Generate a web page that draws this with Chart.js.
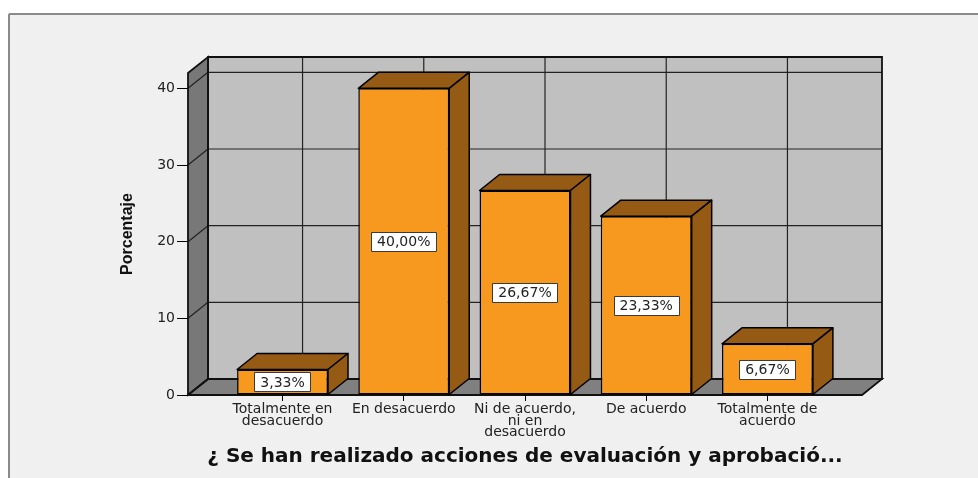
<!DOCTYPE html>
<html>
<head>
<meta charset="utf-8">
<script src="https://cdn.jsdelivr.net/npm/chart.js@4"></script>
<style>
html, body { margin: 0; padding: 0; background: #fff; }
#grafico { display: block; }
</style>
</head>
<body>
<canvas id="grafico" width="978" height="478"></canvas>
<script>
// Datos de la pregunta
const categorias = [
    ["Totalmente en", "desacuerdo"],
    "En desacuerdo",
    ["Ni de acuerdo,", "ni en", "desacuerdo"],
    "De acuerdo",
    ["Totalmente de", "acuerdo"]
];
const porcentajes = [3.33, 40.00, 26.67, 23.33, 6.67];
const marcasY = [0, 10, 20, 30, 40];
const tituloX = "¿ Se han realizado acciones de evaluación y aprobació...";
const tituloY = "Porcentaje";

// Profundidad del efecto 3D (en px)
const DX = 20;
const DY = 16;

function poligono(ctx, puntos, relleno, borde, grosor) {
    ctx.beginPath();
    ctx.moveTo(puntos[0][0], puntos[0][1]);
    for (let i = 1; i < puntos.length; i++) ctx.lineTo(puntos[i][0], puntos[i][1]);
    ctx.closePath();
    if (relleno) { ctx.fillStyle = relleno; ctx.fill(); }
    if (borde) { ctx.strokeStyle = borde; ctx.lineWidth = grosor || 1; ctx.stroke(); }
}

function linea(ctx, x1, y1, x2, y2) {
    ctx.beginPath();
    ctx.moveTo(x1, y1);
    ctx.lineTo(x2, y2);
    ctx.stroke();
}

// Fondo, paredes, piso y rejilla
const escena3d = {
    id: 'escena3d',
    beforeDraw(chart) {
        const ctx = chart.ctx;
        const a = chart.chartArea;
        const xs = chart.scales.x;
        const ys = chart.scales.y;
        ctx.save();

        ctx.fillStyle = '#ffffff';
        ctx.fillRect(0, 0, chart.width, chart.height);
        ctx.fillStyle = '#f0f0f0';
        ctx.fillRect(9, 14, chart.width, chart.height);
        ctx.strokeStyle = '#8a8a8a';
        ctx.lineWidth = 2;
        linea(ctx, 9, chart.height, 9, 14);
        linea(ctx, 9, 14, chart.width, 14);

        // pared del fondo
        poligono(ctx, [[a.left + DX, a.top - DY], [a.right + DX, a.top - DY], [a.right + DX, a.bottom - DY], [a.left + DX, a.bottom - DY]], '#c0c0c0');
        // pared izquierda
        poligono(ctx, [[a.left, a.top], [a.left + DX, a.top - DY], [a.left + DX, a.bottom - DY], [a.left, a.bottom]], '#787878');
        // piso
        poligono(ctx, [[a.left, a.bottom], [a.left + DX, a.bottom - DY], [a.right + DX, a.bottom - DY], [a.right, a.bottom]], '#808080');

        ctx.strokeStyle = '#222';
        ctx.lineWidth = 1.2;
        marcasY.forEach(v => {
            const y = ys.getPixelForValue(v);
            linea(ctx, a.left + DX, y - DY, a.right + DX, y - DY);
            linea(ctx, a.left, y, a.left + DX, y - DY);
        });
        xs.ticks.forEach(t => {
            const x = xs.getPixelForValue(t.value) + DX;
            linea(ctx, x, a.top - DY, x, a.bottom - DY);
        });

        // bordes
        poligono(ctx, [[a.left + DX, a.top - DY], [a.right + DX, a.top - DY], [a.right + DX, a.bottom - DY], [a.left + DX, a.bottom - DY]], null, '#111', 1.8);
        poligono(ctx, [[a.left, a.top], [a.left + DX, a.top - DY], [a.left + DX, a.bottom - DY], [a.left, a.bottom]], null, '#111', 1.8);
        poligono(ctx, [[a.left, a.bottom], [a.left + DX, a.bottom - DY], [a.right + DX, a.bottom - DY], [a.right, a.bottom]], null, '#111', 1.8);
        ctx.restore();
    },
    afterDatasetsDraw(chart) {
        const ctx = chart.ctx;
        const meta = chart.getDatasetMeta(0);
        ctx.save();
        ctx.lineJoin = 'round';
        meta.data.forEach((barra, i) => {
            const p = barra.getProps(['x', 'y', 'base', 'width'], true);
            const izq = p.x - p.width / 2;
            const der = p.x + p.width / 2;
            // cara superior y lateral
            poligono(ctx, [[izq, p.y], [izq + DX, p.y - DY], [der + DX, p.y - DY], [der, p.y]], '#955a14', '#000', 1.5);
            poligono(ctx, [[der, p.y], [der + DX, p.y - DY], [der + DX, p.base - DY], [der, p.base]], '#955a14', '#000', 1.5);

            // etiqueta con el porcentaje
            const texto = porcentajes[i].toFixed(2).replace('.', ',') + '%';
            ctx.font = '14px "DejaVu Sans"';
            const ancho = ctx.measureText(texto).width + 12;
            const alto = 19;
            const cy = (p.y + p.base) / 2;
            const bx = Math.round(p.x - ancho / 2) + 0.5;
            const by = Math.round(cy - alto / 2) + 0.5;
            ctx.fillStyle = '#ffffff';
            ctx.fillRect(bx, by, Math.round(ancho), alto);
            ctx.strokeStyle = '#3a3a3a';
            ctx.lineWidth = 1;
            ctx.strokeRect(bx, by, Math.round(ancho), alto);
            ctx.fillStyle = '#222';
            ctx.textAlign = 'center';
            ctx.textBaseline = 'middle';
            ctx.fillText(texto, p.x, cy + 1);
        });
        ctx.restore();
    }
};

const grafico = new Chart(document.getElementById('grafico'), {
    type: 'bar',
    data: {
        datasets: [{
            data: porcentajes.map((v, i) => ({ x: i, y: v })),
            backgroundColor: '#f7991f',
            borderColor: '#000000',
            borderWidth: 1.5,
            borderSkipped: false,
            barPercentage: 0.75,
            categoryPercentage: 1
        }]
    },
    options: {
        responsive: false,
        animation: false,
        layout: { padding: { top: 73, right: 116, bottom: 0, left: 0 } },
        plugins: {
            legend: { display: false },
            tooltip: { enabled: false }
        },
        scales: {
            x: {
                type: 'linear',
                min: -0.78,
                max: 4.78,
                offset: false,
                afterBuildTicks: s => { s.ticks = categorias.map((c, i) => ({ value: i })); },
                afterFit: s => { s.height = 83; },
                ticks: {
                    callback: v => categorias[v],
                    autoSkip: false,
                    maxRotation: 0,
                    padding: 3,
                    color: '#222',
                    font: { family: 'DejaVu Sans', size: 14, lineHeight: 0.82 }
                },
                grid: { offset: false, drawOnChartArea: false, drawTicks: true, tickLength: 6, color: '#000' },
                border: { display: false },
                title: {
                    display: true,
                    text: tituloX,
                    color: '#111',
                    padding: { top: 0, bottom: 9 },
                    font: { family: 'DejaVu Sans', size: 20, weight: 'bold' }
                }
            },
            y: {
                min: 0,
                max: 42,
                afterBuildTicks: s => { s.ticks = marcasY.map(v => ({ value: v })); },
                afterFit: s => { s.width = 188; },
                ticks: {
                    padding: 2,
                    color: '#222',
                    font: { family: 'DejaVu Sans', size: 14 }
                },
                grid: { drawOnChartArea: false, drawTicks: true, tickLength: 11, color: '#000' },
                border: { display: false },
                title: {
                    display: true,
                    text: tituloY,
                    color: '#111',
                    padding: { top: 118, bottom: 0 },
                    font: { family: 'Liberation Sans', size: 16, weight: 'bold' }
                }
            }
        }
    },
    plugins: [escena3d]
});
</script>
</body>
</html>
